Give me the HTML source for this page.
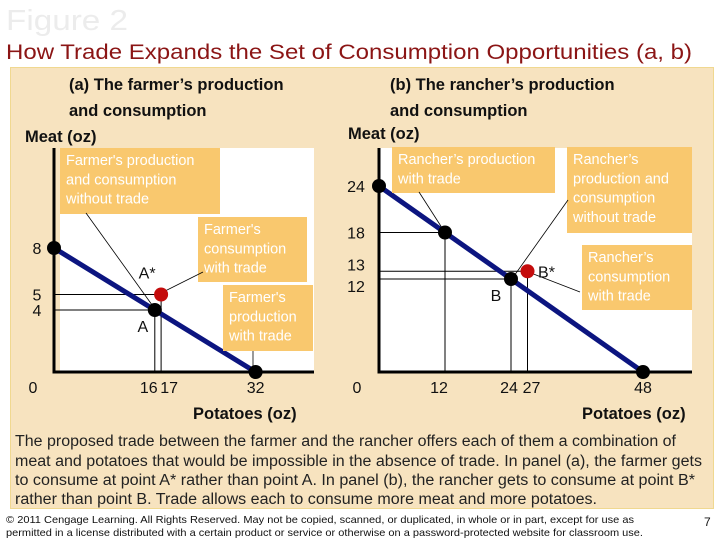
<!DOCTYPE html>
<html><head><meta charset="utf-8"><style>
body{margin:0;width:720px;height:540px;background:#fff;overflow:hidden;font-family:"Liberation Sans",sans-serif}
svg{display:block}
</style></head><body>
<svg id="s" width="720" height="540" viewBox="0 0 720 540" font-family="Liberation Sans, sans-serif">
<text x="6" y="30" font-size="29" fill="#ececec" textLength="122" lengthAdjust="spacingAndGlyphs">Figure 2</text>
<text x="6" y="59" font-size="21" fill="#8b1515" textLength="686" lengthAdjust="spacingAndGlyphs">How Trade Expands the Set of Consumption Opportunities (a, b)</text>
<rect x="10.5" y="67.5" width="703" height="441" fill="#f7e3bf" stroke="#f0d890"/>
<rect x="60" y="148" width="254" height="224" fill="#fff"/>
<rect x="378" y="148" width="314" height="224" fill="#fff"/>
<g font-size="16.5" font-weight="bold" fill="#111">
<text x="69" y="90">(a) The farmer’s production</text>
<text x="69" y="116">and consumption</text>
<text x="25" y="142">Meat (oz)</text>
<text x="390" y="90">(b) The rancher’s production</text>
<text x="390" y="116">and consumption</text>
<text x="348" y="139">Meat (oz)</text>
<text x="193" y="419">Potatoes (oz)</text>
<text x="582" y="419">Potatoes (oz)</text>
</g>
<g id="chart"></g>
<g font-size="15.5" fill="#222">
<text x="15" y="446" textLength="661" lengthAdjust="spacingAndGlyphs">The proposed trade between the farmer and the rancher offers each of them a combination of</text>
<text x="15" y="466" textLength="687" lengthAdjust="spacingAndGlyphs">meat and potatoes that would be impossible in the absence of trade. In panel (a), the farmer gets</text>
<text x="15" y="485" textLength="680" lengthAdjust="spacingAndGlyphs">to consume at point A* rather than point A. In panel (b), the rancher gets to consume at point B*</text>
<text x="15" y="504" textLength="582" lengthAdjust="spacingAndGlyphs">rather than point B. Trade allows each to consume more meat and more potatoes.</text>
</g>
<g font-size="10.5" fill="#111">
<text x="6" y="523" textLength="628" lengthAdjust="spacingAndGlyphs">© 2011 Cengage Learning. All Rights Reserved. May not be copied, scanned, or duplicated, in whole or in part, except for use as</text>
<text x="6" y="536" textLength="637" lengthAdjust="spacingAndGlyphs">permitted in a license distributed with a certain product or service or otherwise on a password-protected website for classroom use.</text>
<text x="704" y="526" font-size="12">7</text>
</g>
</svg>
<script>
// Panel A data
const aFrontierX=[0,32];
const aFrontierY=[8,0];
const aPointA=[16,4];
const aPointAStar=[17,5];
const aYTicks=[8,5,4,0];
const aXTicks=[0,16,17,32];
// Panel B data
const bFrontierX=[0,48];
const bFrontierY=[24,0];
const bPointProd=[12,18];
const bPointB=[24,12];
const bPointBStar=[27,13];
const bYTicks=[24,18,13,12,0];
const bXTicks=[0,12,24,27,48];

const NS="http://www.w3.org/2000/svg";
const g=document.getElementById('chart');
function mk(tag,at,txt){const e=document.createElementNS(NS,tag);for(const k in at)e.setAttribute(k,at[k]);if(txt!==undefined)e.textContent=txt;g.appendChild(e);return e;}
const ax=v=>54+v*6.3, ay=v=>372-v*15.5;
const bx=v=>379+v*5.5, by=v=>372-v*7.75;

function guides(sx,sy,p,name){
  let e=mk('line',{x1:sx(0),y1:sy(p[1]),x2:sx(p[0]),y2:sy(p[1]),stroke:'#000','stroke-width':1});
  
  
  e=mk('line',{x1:sx(p[0]),y1:sy(p[1]),x2:sx(p[0]),y2:sy(0),stroke:'#000','stroke-width':1});
  
  
}
function dot(sx,sy,p,col,name){
  const e=mk('circle',{cx:sx(p[0]),cy:sy(p[1]),r:7,fill:col});
  
  
}
function box(x,y,w,h,lines,name){
  const r=mk('rect',{x:x,y:y,width:w,height:h,fill:'#f9c86e'});
  
  
  lines.forEach((t,i)=>{const e=mk('text',{x:x+6,y:y+17+i*19.3,'font-size':14.5,fill:'#fff'},t);
    
    });
}
function leader(x1,y1,x2,y2,name){
  const e=mk('line',{x1,y1,x2,y2,stroke:'#000','stroke-width':0.8});
  
  
}
function tickLabel(x,y,t,name,anchor){
  const e=mk('text',{x,y,'font-size':16,fill:'#111','text-anchor':anchor||'middle'},t);
  
  
}

// ---- Panel A
guides(ax,ay,aPointA,'point-a');
guides(ax,ay,aPointAStar,'point-a-star');
let ln=mk('line',{x1:ax(aFrontierX[0]),y1:ay(aFrontierY[0]),x2:ax(aFrontierX[1]),y2:ay(aFrontierY[1]),stroke:'#0c1580','stroke-width':5});


let axl=mk('path',{d:`M${ax(0)} 148 V${ay(0)} H314`,fill:'none',stroke:'#000','stroke-width':3});


box(60,148,160,66,["Farmer's production","and consumption","without trade"],'farmer-no-trade-label');
box(198,217,109,65,["Farmer's","consumption","with trade"],'farmer-consumption-label');
box(223,285,90,66,["Farmer's","production","with trade"],'farmer-production-label');
leader(86,213,ax(aPointA[0])-2,ay(aPointA[1])-4,'leader-a');
leader(203,272,ax(aPointAStar[0])+3,ay(aPointAStar[1])-3,'leader-a-star');
leader(253,351,253,ay(0),'leader-a-prod');
dot(ax,ay,[aFrontierX[0],aFrontierY[0]],'#000','farmer-meat-intercept');
dot(ax,ay,[aFrontierX[1],aFrontierY[1]],'#000','farmer-potato-intercept');
dot(ax,ay,aPointA,'#000','point-a');
dot(ax,ay,aPointAStar,'#c40c0c','point-a-star');
tickLabel(ax(aPointA[0])-12,ay(aPointA[1])+22,'A','label-a');
tickLabel(ax(aPointAStar[0])-14,ay(aPointAStar[1])-16,'A*','label-a-star');
aYTicks.forEach(v=>{if(v>0)tickLabel(37,ay(v)+6,String(v),'a-y-tick-'+v);});
tickLabel(33,393,'0','a-x-tick-0');
tickLabel(ax(16)-6,393,'16','a-x-tick-16');
tickLabel(ax(17)+8,393,'17','a-x-tick-17');
tickLabel(ax(32),393,'32','a-x-tick-32');

// ---- Panel B
guides(bx,by,bPointProd,'rancher-production');
guides(bx,by,bPointB,'point-b');
guides(bx,by,bPointBStar,'point-b-star');
ln=mk('line',{x1:bx(bFrontierX[0]),y1:by(bFrontierY[0]),x2:bx(bFrontierX[1]),y2:by(bFrontierY[1]),stroke:'#0c1580','stroke-width':5});


axl=mk('path',{d:`M${bx(0)} 148 V${by(0)} H692`,fill:'none',stroke:'#000','stroke-width':3});


box(392,147,163,46,["Rancher’s production","with trade"],'rancher-production-label');
box(567,147,125,86,["Rancher’s","production and","consumption","without trade"],'rancher-no-trade-label');
box(582,245,110,65,["Rancher’s","consumption","with trade"],'rancher-consumption-label');
leader(419,192,bx(bPointProd[0]),by(bPointProd[1]),'leader-rancher-prod');
leader(568,200,bx(bPointB[0])+3,by(bPointB[1])-3,'leader-b');
leader(580,292,bx(bPointBStar[0])+4,by(bPointBStar[1])+2,'leader-b-star');
dot(bx,by,[bFrontierX[0],bFrontierY[0]],'#000','rancher-meat-intercept');
dot(bx,by,[bFrontierX[1],bFrontierY[1]],'#000','rancher-potato-intercept');
dot(bx,by,bPointProd,'#000','rancher-production-point');
dot(bx,by,bPointB,'#000','point-b');
dot(bx,by,bPointBStar,'#c40c0c','point-b-star');
tickLabel(bx(bPointB[0])-15,by(bPointB[1])+22,'B','label-b');
tickLabel(bx(bPointBStar[0])+19,by(bPointBStar[1])+6,'B*','label-b-star');
bYTicks.forEach(v=>{if(v<=0)return;const off=v===13?-1:(v===12?13:6);tickLabel(356,by(v)+off,String(v),'b-y-tick-'+v);});
tickLabel(357,393,'0','b-x-tick-0');
tickLabel(bx(12)-6,393,'12','b-x-tick-12');
tickLabel(bx(24)-2,393,'24','b-x-tick-24');
tickLabel(bx(27)+4,393,'27','b-x-tick-27');
tickLabel(bx(48),393,'48','b-x-tick-48');
</script>
</body></html>
